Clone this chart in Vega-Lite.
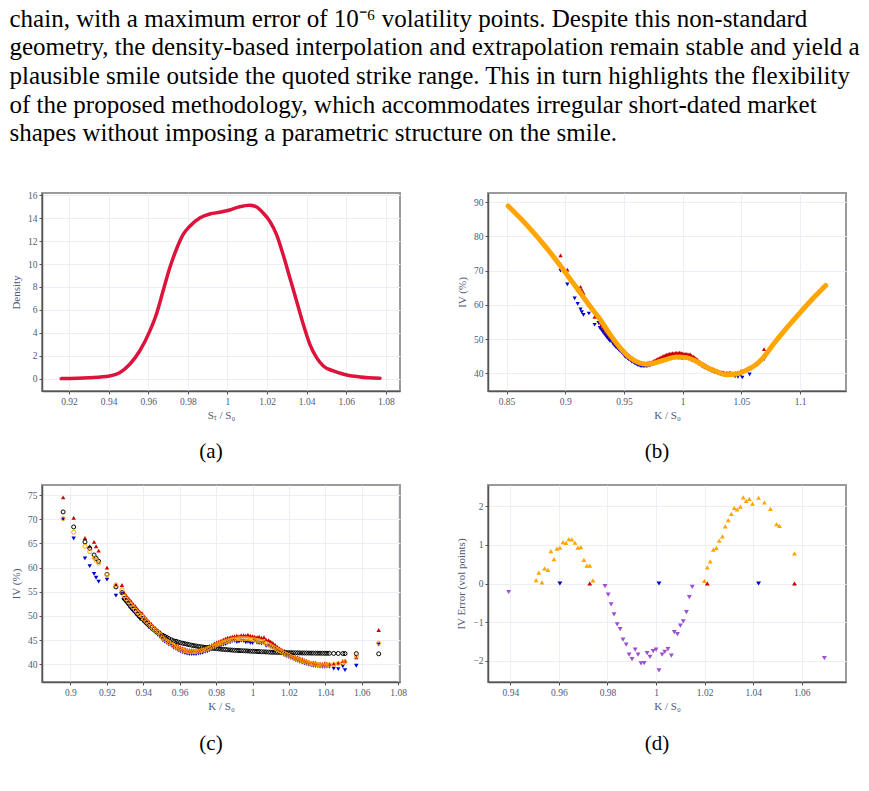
{
  "$schema": "https://vega.github.io/schema/vega-lite/v6.json",
  "background": "white",
  "padding": {"left": 9, "top": 6, "right": 5, "bottom": 5},
  "title": {
    "text": [
      "chain, with a maximum error of 10⁻⁶ volatility points. Despite this non-standard",
      "geometry, the density-based interpolation and extrapolation remain stable and yield a",
      "plausible smile outside the quoted strike range. This in turn highlights the flexibility",
      "of the proposed methodology, which accommodates irregular short-dated market",
      "shapes without imposing a parametric structure on the smile."
    ],
    "anchor": "start",
    "font": "Liberation Serif",
    "fontSize": 25,
    "fontWeight": "normal",
    "color": "black",
    "lineHeight": 28.6,
    "offset": 43
  },
  "datasets": {
    "density": [
      {"x": 0.9161, "d": 0}, {"x": 0.93, "d": 0.08}, {"x": 0.9405, "d": 0.23}, {"x": 0.9456, "d": 0.52},
      {"x": 0.9507, "d": 1.25}, {"x": 0.9557, "d": 2.41}, {"x": 0.9608, "d": 4.15}, {"x": 0.9641, "d": 5.6},
      {"x": 0.9675, "d": 7.64}, {"x": 0.9709, "d": 9.67}, {"x": 0.9742, "d": 11.27}, {"x": 0.9776, "d": 12.57},
      {"x": 0.981, "d": 13.3}, {"x": 0.986, "d": 14.02}, {"x": 0.9911, "d": 14.37}, {"x": 0.9961, "d": 14.52},
      {"x": 1.0012, "d": 14.72}, {"x": 1.0062, "d": 15.0}, {"x": 1.0113, "d": 15.13}, {"x": 1.0147, "d": 14.98},
      {"x": 1.018, "d": 14.46}, {"x": 1.0214, "d": 13.73}, {"x": 1.0248, "d": 12.57}, {"x": 1.0281, "d": 10.83},
      {"x": 1.0315, "d": 8.8}, {"x": 1.0349, "d": 6.77}, {"x": 1.0383, "d": 4.73}, {"x": 1.0416, "d": 2.99},
      {"x": 1.045, "d": 1.83}, {"x": 1.0484, "d": 1.1}, {"x": 1.0534, "d": 0.67}, {"x": 1.0602, "d": 0.32},
      {"x": 1.0669, "d": 0.15}, {"x": 1.077, "d": 0.03}
    ],
    "smile": [
      {"k": 0.8514, "iv": 88.9}, {"k": 0.8671, "iv": 83.4}, {"k": 0.8842, "iv": 76.6}, {"k": 0.8983, "iv": 70.3},
      {"k": 0.9097, "iv": 65.0}, {"k": 0.921, "iv": 59.65}, {"k": 0.9296, "iv": 55.8}, {"k": 0.9381, "iv": 51.4},
      {"k": 0.9466, "iv": 47.55}, {"k": 0.9551, "iv": 44.65}, {"k": 0.9636, "iv": 43.0}, {"k": 0.9693, "iv": 42.7},
      {"k": 0.9778, "iv": 43.2}, {"k": 0.9864, "iv": 44.1}, {"k": 0.9949, "iv": 44.8}, {"k": 1.0034, "iv": 44.6},
      {"k": 1.0119, "iv": 43.5}, {"k": 1.0204, "iv": 41.75}, {"k": 1.029, "iv": 40.5}, {"k": 1.0375, "iv": 39.6},
      {"k": 1.046, "iv": 39.8}, {"k": 1.0545, "iv": 41.0}, {"k": 1.063, "iv": 42.7}, {"k": 1.0687, "iv": 44.6},
      {"k": 1.0772, "iv": 48.5}, {"k": 1.0886, "iv": 53.3}, {"k": 1.0999, "iv": 57.7}, {"k": 1.1113, "iv": 62.0},
      {"k": 1.1218, "iv": 65.7}
    ],
    "market": [
      {"k": 0.896, "bid": 70.0, "ask": 74.5, "fit": 70.1, "alt": 71.5},
      {"k": 0.9018, "bid": 66.0, "ask": 70.3, "fit": 67.3, "alt": 68.4},
      {"k": 0.908, "bid": 61.9, "ask": 66.1, "fit": 64.4, "alt": 65.3},
      {"k": 0.9106, "bid": 60.3, "ask": 64.4, "fit": 63.3, "alt": 64.0},
      {"k": 0.913, "bid": 58.7, "ask": 65.3, "fit": 62.0, "alt": 62.6},
      {"k": 0.9141, "bid": 57.9, "ask": 64.4, "fit": 61.5, "alt": 61.9},
      {"k": 0.9155, "bid": 57.1, "ask": 63.5, "fit": 60.9, "alt": 61.3},
      {"k": 0.9201, "bid": 57.5, "ask": 60.0, "fit": 58.5, "alt": 58.6},
      {"k": 0.925, "bid": 54.2, "ask": 56.5, "fit": 56.4, "alt": 56.0},
      {"k": 0.9283, "bid": 54.8, "ask": 56.4, "fit": 55.4, "alt": 54.8},
      {"k": 0.9295, "bid": 53.3, "ask": 54.8, "fit": 54.1, "alt": 53.6},
      {"k": 0.9307, "bid": 52.7, "ask": 54.2, "fit": 53.5, "alt": 53.1},
      {"k": 0.932, "bid": 52.1, "ask": 53.6, "fit": 52.9, "alt": 52.5},
      {"k": 0.9332, "bid": 51.5, "ask": 53.1, "fit": 52.3, "alt": 51.9},
      {"k": 0.9344, "bid": 51.0, "ask": 52.5, "fit": 51.8, "alt": 51.4},
      {"k": 0.9357, "bid": 50.4, "ask": 52.0, "fit": 51.2, "alt": 50.9},
      {"k": 0.9369, "bid": 49.9, "ask": 51.4, "fit": 50.7, "alt": 50.4},
      {"k": 0.9381, "bid": 49.4, "ask": 50.9, "fit": 50.2, "alt": 49.9},
      {"k": 0.9393, "bid": 49.6, "ask": 50.6, "fit": 50.0, "alt": 49.4},
      {"k": 0.9406, "bid": 48.7, "ask": 49.9, "fit": 49.3, "alt": 48.95},
      {"k": 0.9418, "bid": 48.2, "ask": 49.4, "fit": 48.8, "alt": 48.5},
      {"k": 0.943, "bid": 47.7, "ask": 48.9, "fit": 48.3, "alt": 48.1},
      {"k": 0.9443, "bid": 47.3, "ask": 48.4, "fit": 47.8, "alt": 47.7},
      {"k": 0.9455, "bid": 46.9, "ask": 47.9, "fit": 47.4, "alt": 47.3},
      {"k": 0.9467, "bid": 46.5, "ask": 47.5, "fit": 47.0, "alt": 46.95},
      {"k": 0.948, "bid": 46.1, "ask": 47.1, "fit": 46.6, "alt": 46.6},
      {"k": 0.9492, "bid": 45.7, "ask": 46.7, "fit": 46.2, "alt": 46.3},
      {"k": 0.9506, "bid": 45.0, "ask": 45.9, "fit": 45.4, "alt": 46.0},
      {"k": 0.9517, "bid": 44.7, "ask": 45.5, "fit": 45.1, "alt": 45.8},
      {"k": 0.953, "bid": 44.4, "ask": 45.5, "fit": 44.8, "alt": 45.55},
      {"k": 0.9541, "bid": 44.1, "ask": 44.9, "fit": 44.5, "alt": 45.3},
      {"k": 0.9555, "bid": 43.8, "ask": 44.7, "fit": 44.2, "alt": 45.05},
      {"k": 0.9567, "bid": 43.4, "ask": 44.0, "fit": 43.8, "alt": 44.85},
      {"k": 0.958, "bid": 43.2, "ask": 44.1, "fit": 43.6, "alt": 44.75},
      {"k": 0.9592, "bid": 42.9, "ask": 43.7, "fit": 43.3, "alt": 44.6},
      {"k": 0.9604, "bid": 42.7, "ask": 43.5, "fit": 43.1, "alt": 44.45},
      {"k": 0.9617, "bid": 42.5, "ask": 43.3, "fit": 42.9, "alt": 44.35},
      {"k": 0.9629, "bid": 42.3, "ask": 43.2, "fit": 42.8, "alt": 44.25},
      {"k": 0.9641, "bid": 42.2, "ask": 43.0, "fit": 42.7, "alt": 44.15},
      {"k": 0.9653, "bid": 42.1, "ask": 42.9, "fit": 42.6, "alt": 44.05},
      {"k": 0.9666, "bid": 42.1, "ask": 42.9, "fit": 42.6, "alt": 43.95},
      {"k": 0.9678, "bid": 42.1, "ask": 42.9, "fit": 42.6, "alt": 43.85},
      {"k": 0.969, "bid": 42.1, "ask": 42.85, "fit": 42.6, "alt": 43.78},
      {"k": 0.9703, "bid": 42.2, "ask": 43.1, "fit": 42.7, "alt": 43.7},
      {"k": 0.9715, "bid": 42.3, "ask": 43.2, "fit": 42.8, "alt": 43.63},
      {"k": 0.9727, "bid": 42.4, "ask": 43.1, "fit": 42.9, "alt": 43.57},
      {"k": 0.974, "bid": 42.6, "ask": 43.4, "fit": 43.0, "alt": 43.5},
      {"k": 0.9752, "bid": 42.7, "ask": 43.6, "fit": 43.2, "alt": 43.45},
      {"k": 0.9764, "bid": 42.9, "ask": 43.8, "fit": 43.35, "alt": 43.4},
      {"k": 0.9777, "bid": 43.1, "ask": 44.0, "fit": 43.55, "alt": 43.33},
      {"k": 0.979, "bid": 43.35, "ask": 44.3, "fit": 43.8, "alt": 43.28},
      {"k": 0.9803, "bid": 43.5, "ask": 44.5, "fit": 44.0, "alt": 43.23},
      {"k": 0.9815, "bid": 43.7, "ask": 44.7, "fit": 44.2, "alt": 43.18},
      {"k": 0.9827, "bid": 43.9, "ask": 44.9, "fit": 44.4, "alt": 43.13},
      {"k": 0.984, "bid": 44.1, "ask": 45.1, "fit": 44.55, "alt": 43.08},
      {"k": 0.9852, "bid": 44.2, "ask": 45.3, "fit": 44.7, "alt": 43.05},
      {"k": 0.9864, "bid": 44.45, "ask": 45.5, "fit": 44.85, "alt": 43.0},
      {"k": 0.9877, "bid": 44.55, "ask": 45.6, "fit": 45.0, "alt": 42.97},
      {"k": 0.9889, "bid": 44.8, "ask": 45.7, "fit": 45.1, "alt": 42.93},
      {"k": 0.9901, "bid": 44.85, "ask": 45.8, "fit": 45.2, "alt": 42.9},
      {"k": 0.9914, "bid": 44.6, "ask": 45.9, "fit": 45.25, "alt": 42.87},
      {"k": 0.9926, "bid": 44.7, "ask": 45.8, "fit": 45.3, "alt": 42.84},
      {"k": 0.9938, "bid": 44.9, "ask": 46.0, "fit": 45.3, "alt": 42.82},
      {"k": 0.9951, "bid": 44.85, "ask": 46.0, "fit": 45.3, "alt": 42.79},
      {"k": 0.9963, "bid": 44.55, "ask": 45.9, "fit": 45.3, "alt": 42.77},
      {"k": 0.9975, "bid": 44.65, "ask": 46.1, "fit": 45.25, "alt": 42.75},
      {"k": 0.9988, "bid": 44.45, "ask": 45.9, "fit": 45.2, "alt": 42.72},
      {"k": 1.0, "bid": 44.4, "ask": 45.8, "fit": 45.1, "alt": 42.7},
      {"k": 1.0012, "bid": 44.9, "ask": 45.7, "fit": 45.05, "alt": 42.68},
      {"k": 1.0025, "bid": 44.5, "ask": 45.6, "fit": 44.95, "alt": 42.65},
      {"k": 1.0036, "bid": 44.4, "ask": 45.7, "fit": 44.85, "alt": 42.63},
      {"k": 1.0049, "bid": 44.3, "ask": 45.5, "fit": 44.7, "alt": 42.6},
      {"k": 1.0063, "bid": 44.45, "ask": 45.6, "fit": 44.5, "alt": 42.58},
      {"k": 1.0075, "bid": 43.8, "ask": 45.1, "fit": 44.3, "alt": 42.55},
      {"k": 1.0088, "bid": 43.85, "ask": 45.0, "fit": 44.0, "alt": 42.53},
      {"k": 1.01, "bid": 43.6, "ask": 44.7, "fit": 43.8, "alt": 42.5},
      {"k": 1.0112, "bid": 43.45, "ask": 44.4, "fit": 43.55, "alt": 42.49},
      {"k": 1.0125, "bid": 43.2, "ask": 44.0, "fit": 43.3, "alt": 42.48},
      {"k": 1.0137, "bid": 42.8, "ask": 43.6, "fit": 43.05, "alt": 42.47},
      {"k": 1.0149, "bid": 42.55, "ask": 43.3, "fit": 42.8, "alt": 42.45},
      {"k": 1.0161, "bid": 42.2, "ask": 43.0, "fit": 42.55, "alt": 42.44},
      {"k": 1.0174, "bid": 41.9, "ask": 42.8, "fit": 42.3, "alt": 42.43},
      {"k": 1.0186, "bid": 41.7, "ask": 42.55, "fit": 42.05, "alt": 42.41},
      {"k": 1.0199, "bid": 41.5, "ask": 42.33, "fit": 41.85, "alt": 42.4},
      {"k": 1.0211, "bid": 41.3, "ask": 41.97, "fit": 41.6, "alt": 42.39},
      {"k": 1.0223, "bid": 41.1, "ask": 41.81, "fit": 41.4, "alt": 42.38},
      {"k": 1.0236, "bid": 40.9, "ask": 41.49, "fit": 41.2, "alt": 42.37},
      {"k": 1.0248, "bid": 40.7, "ask": 41.44, "fit": 41.0, "alt": 42.36},
      {"k": 1.026, "bid": 40.5, "ask": 41.24, "fit": 40.85, "alt": 42.35},
      {"k": 1.0273, "bid": 40.35, "ask": 41.12, "fit": 40.7, "alt": 42.34},
      {"k": 1.0285, "bid": 40.2, "ask": 40.85, "fit": 40.55, "alt": 42.33},
      {"k": 1.0297, "bid": 40.05, "ask": 40.69, "fit": 40.4, "alt": 42.33},
      {"k": 1.031, "bid": 39.9, "ask": 40.52, "fit": 40.25, "alt": 42.32},
      {"k": 1.0322, "bid": 39.8, "ask": 40.35, "fit": 40.15, "alt": 42.31},
      {"k": 1.0334, "bid": 39.7, "ask": 40.39, "fit": 40.05, "alt": 42.31},
      {"k": 1.0347, "bid": 39.65, "ask": 40.31, "fit": 39.95, "alt": 42.3},
      {"k": 1.0359, "bid": 39.6, "ask": 40.07, "fit": 39.9, "alt": 42.3},
      {"k": 1.0371, "bid": 39.55, "ask": 40.15, "fit": 39.85, "alt": 42.29},
      {"k": 1.0384, "bid": 39.5, "ask": 40.1, "fit": 39.8, "alt": 42.29},
      {"k": 1.0397, "bid": 39.5, "ask": 40.21, "fit": 39.8, "alt": 42.28},
      {"k": 1.0409, "bid": 39.55, "ask": 40.15, "fit": 39.85, "alt": 42.28},
      {"k": 1.0422, "bid": 39.5, "ask": 40.05, "fit": 39.9, "alt": 42.27},
      {"k": 1.0446, "bid": 39.1, "ask": 40.15, "fit": 40.0, "alt": 42.25},
      {"k": 1.0471, "bid": 39.0, "ask": 40.31, "fit": 40.15, "alt": 42.24},
      {"k": 1.0496, "bid": 39.6, "ask": 40.69, "fit": 40.35, "alt": 42.23},
      {"k": 1.0508, "bid": 38.8, "ask": 40.73, "fit": 40.5, "alt": 42.22},
      {"k": 1.057, "bid": 39.7, "ask": 41.42, "fit": 41.7, "alt": 42.2},
      {"k": 1.0693, "bid": 44.1, "ask": 47.1, "fit": 44.4, "alt": 42.17}
    ],
    "errors": [
      {"k": 0.9393, "err": -0.22, "g": "below"},
      {"k": 0.9506, "err": 0.09, "g": "above"}, {"k": 0.9517, "err": 0.28, "g": "above"},
      {"k": 0.953, "err": 0.03, "g": "above"}, {"k": 0.9541, "err": 0.39, "g": "above"},
      {"k": 0.9555, "err": 0.35, "g": "above"}, {"k": 0.9567, "err": 0.84, "g": "above"},
      {"k": 0.958, "err": 0.63, "g": "above"}, {"k": 0.9592, "err": 0.9, "g": "above"},
      {"k": 0.9604, "err": 0.93, "g": "above"}, {"k": 0.9604, "err": 0, "g": "bid"},
      {"k": 0.9617, "err": 1.07, "g": "above"}, {"k": 0.9629, "err": 1.05, "g": "above"},
      {"k": 0.9641, "err": 1.15, "g": "above"}, {"k": 0.9653, "err": 1.14, "g": "above"},
      {"k": 0.9666, "err": 1.06, "g": "above"}, {"k": 0.9678, "err": 0.93, "g": "above"},
      {"k": 0.969, "err": 0.94, "g": "above"}, {"k": 0.9703, "err": 0.61, "g": "above"},
      {"k": 0.9715, "err": 0.46, "g": "above"}, {"k": 0.9727, "err": 0.46, "g": "above"},
      {"k": 0.9727, "err": 0, "g": "ask"}, {"k": 0.974, "err": 0.08, "g": "above"},
      {"k": 0.979, "err": -0.07, "g": "below"}, {"k": 0.9803, "err": -0.29, "g": "below"},
      {"k": 0.9815, "err": -0.54, "g": "below"}, {"k": 0.9827, "err": -0.8, "g": "below"},
      {"k": 0.984, "err": -1.06, "g": "below"}, {"k": 0.9852, "err": -1.18, "g": "below"},
      {"k": 0.9864, "err": -1.45, "g": "below"}, {"k": 0.9877, "err": -1.58, "g": "below"},
      {"k": 0.9889, "err": -1.84, "g": "below"}, {"k": 0.9901, "err": -1.96, "g": "below"},
      {"k": 0.9914, "err": -1.71, "g": "below"}, {"k": 0.9926, "err": -1.84, "g": "below"},
      {"k": 0.9938, "err": -2.07, "g": "below"}, {"k": 0.9951, "err": -2.06, "g": "below"},
      {"k": 0.9963, "err": -1.8, "g": "below"}, {"k": 0.9975, "err": -1.9, "g": "below"},
      {"k": 0.9988, "err": -1.75, "g": "below"}, {"k": 1.0, "err": -1.71, "g": "below"},
      {"k": 1.0012, "err": -2.25, "g": "below"}, {"k": 1.0012, "err": 0, "g": "bid"},
      {"k": 1.0025, "err": -1.84, "g": "below"}, {"k": 1.0036, "err": -1.77, "g": "below"},
      {"k": 1.0049, "err": -1.7, "g": "below"}, {"k": 1.0063, "err": -1.87, "g": "below"},
      {"k": 1.0075, "err": -1.26, "g": "below"}, {"k": 1.0088, "err": -1.31, "g": "below"},
      {"k": 1.01, "err": -1.09, "g": "below"}, {"k": 1.0112, "err": -0.98, "g": "below"},
      {"k": 1.0125, "err": -0.74, "g": "below"}, {"k": 1.0137, "err": -0.35, "g": "below"},
      {"k": 1.0149, "err": -0.09, "g": "below"},
      {"k": 1.0199, "err": 0.07, "g": "above"}, {"k": 1.0211, "err": 0.42, "g": "above"},
      {"k": 1.0211, "err": 0, "g": "ask"}, {"k": 1.0223, "err": 0.57, "g": "above"},
      {"k": 1.0236, "err": 0.88, "g": "above"}, {"k": 1.0248, "err": 0.92, "g": "above"},
      {"k": 1.026, "err": 1.11, "g": "above"}, {"k": 1.0273, "err": 1.22, "g": "above"},
      {"k": 1.0285, "err": 1.48, "g": "above"}, {"k": 1.0297, "err": 1.64, "g": "above"},
      {"k": 1.031, "err": 1.8, "g": "above"}, {"k": 1.0322, "err": 1.96, "g": "above"},
      {"k": 1.0334, "err": 1.92, "g": "above"}, {"k": 1.0347, "err": 1.99, "g": "above"},
      {"k": 1.0359, "err": 2.23, "g": "above"}, {"k": 1.0371, "err": 2.14, "g": "above"},
      {"k": 1.0384, "err": 2.19, "g": "above"}, {"k": 1.0397, "err": 2.07, "g": "above"},
      {"k": 1.0422, "err": 2.22, "g": "above"}, {"k": 1.0422, "err": 0, "g": "bid"},
      {"k": 1.0446, "err": 2.1, "g": "above"}, {"k": 1.0471, "err": 1.93, "g": "above"},
      {"k": 1.0496, "err": 1.54, "g": "above"}, {"k": 1.0508, "err": 1.49, "g": "above"},
      {"k": 1.057, "err": 0.78, "g": "above"}, {"k": 1.057, "err": 0, "g": "ask"},
      {"k": 1.0693, "err": -1.93, "g": "below"}
    ]
  },
  "columns": 2,
  "bounds": "flush",
  "spacing": {"row": 94, "column": 88},
  "concat": [
    {
      "width": 358, "height": 198,
      "title": {"text": "(a)", "orient": "bottom", "anchor": "middle", "dx": -10, "offset": 20, "font": "Liberation Serif", "fontSize": 21, "fontWeight": "normal", "color": "black"},
      "data": {"name": "density"},
      "mark": {"type": "line", "color": "#DC143C", "strokeWidth": 3.5, "interpolate": "monotone", "strokeCap": "round", "clip": true},
      "encoding": {
        "x": {"field": "x", "type": "quantitative", "scale": {"domain": [0.9064, 1.0871], "nice": false, "zero": false},
              "axis": {"values": [0.92, 0.94, 0.96, 0.98, 1.0, 1.02, 1.04, 1.06, 1.08], "format": "~g", "title": "Sₜ / S₀"}},
        "y": {"field": "d", "type": "quantitative", "scale": {"domain": [-1.08, 16.2], "nice": false, "zero": false},
              "axis": {"values": [0, 2, 4, 6, 8, 10, 12, 14, 16], "title": "Density"}}
      }
    },
    {
      "width": 358, "height": 198,
      "title": {"text": "(b)", "orient": "bottom", "anchor": "middle", "dx": -10, "offset": 20, "font": "Liberation Serif", "fontSize": 21, "fontWeight": "normal", "color": "black"},
      "layer": [
        {
          "data": {"name": "market"},
          "mark": {"type": "point", "shape": "triangle-down", "filled": true, "color": "#0000cc", "size": 18, "opacity": 1, "clip": true},
          "encoding": {
            "x": {"field": "k", "type": "quantitative", "scale": {"domain": [0.8342, 1.1391], "nice": false, "zero": false},
                  "axis": {"values": [0.85, 0.9, 0.95, 1.0, 1.05, 1.1], "format": "~g", "title": "K / S₀"}},
            "y": {"field": "bid", "type": "quantitative", "scale": {"domain": [34.85, 92.7], "nice": false, "zero": false},
                  "axis": {"values": [40, 50, 60, 70, 80, 90], "title": "IV (%)"}}
          }
        },
        {
          "data": {"name": "market"},
          "mark": {"type": "point", "shape": "triangle-up", "filled": true, "color": "#cc0000", "size": 18, "opacity": 1, "clip": true},
          "encoding": {
            "x": {"field": "k", "type": "quantitative", "scale": {"domain": [0.8342, 1.1391], "nice": false, "zero": false},
                  "axis": {"values": [0.85, 0.9, 0.95, 1.0, 1.05, 1.1], "format": "~g", "title": "K / S₀"}},
            "y": {"field": "ask", "type": "quantitative", "scale": {"domain": [34.85, 92.7], "nice": false, "zero": false},
                  "axis": {"values": [40, 50, 60, 70, 80, 90], "title": "IV (%)"}}
          }
        },
        {
          "data": {"name": "smile"},
          "mark": {"type": "line", "color": "#FFA500", "strokeWidth": 5, "interpolate": "monotone", "strokeCap": "round", "clip": true},
          "encoding": {
            "x": {"field": "k", "type": "quantitative", "scale": {"domain": [0.8342, 1.1391], "nice": false, "zero": false},
                  "axis": {"values": [0.85, 0.9, 0.95, 1.0, 1.05, 1.1], "format": "~g", "title": "K / S₀"}},
            "y": {"field": "iv", "type": "quantitative", "scale": {"domain": [34.85, 92.7], "nice": false, "zero": false},
                  "axis": {"values": [40, 50, 60, 70, 80, 90], "title": "IV (%)"}}
          }
        }
      ]
    },
    {
      "width": 358, "height": 197,
      "title": {"text": "(c)", "orient": "bottom", "anchor": "middle", "dx": -10, "offset": 21, "font": "Liberation Serif", "fontSize": 21, "fontWeight": "normal", "color": "black"},
      "data": {"name": "market"},
      "layer": [
        {
          "mark": {"type": "point", "shape": "triangle-down", "filled": true, "color": "#0000cc", "size": 20, "opacity": 1, "clip": true},
          "encoding": {
            "x": {"field": "k", "type": "quantitative", "scale": {"domain": [0.8844, 1.081], "nice": false, "zero": false},
                  "axis": {"values": [0.9, 0.92, 0.94, 0.96, 0.98, 1.0, 1.02, 1.04, 1.06, 1.08], "format": "~g", "title": "K / S₀"}},
            "y": {"field": "bid", "type": "quantitative", "scale": {"domain": [36.34, 77.07], "nice": false, "zero": false},
                  "axis": {"values": [40, 45, 50, 55, 60, 65, 70, 75], "title": "IV (%)"}}
          }
        },
        {
          "mark": {"type": "point", "shape": "triangle-up", "filled": true, "color": "#cc0000", "size": 20, "opacity": 1, "clip": true},
          "encoding": {
            "x": {"field": "k", "type": "quantitative", "scale": {"domain": [0.8844, 1.081], "nice": false, "zero": false},
                  "axis": {"values": [0.9, 0.92, 0.94, 0.96, 0.98, 1.0, 1.02, 1.04, 1.06, 1.08], "format": "~g", "title": "K / S₀"}},
            "y": {"field": "ask", "type": "quantitative", "scale": {"domain": [36.34, 77.07], "nice": false, "zero": false},
                  "axis": {"values": [40, 45, 50, 55, 60, 65, 70, 75], "title": "IV (%)"}}
          }
        },
        {
          "mark": {"type": "point", "shape": "circle", "filled": false, "color": "#000000", "size": 16, "strokeWidth": 1, "opacity": 1, "clip": true},
          "encoding": {
            "x": {"field": "k", "type": "quantitative", "scale": {"domain": [0.8844, 1.081], "nice": false, "zero": false},
                  "axis": {"values": [0.9, 0.92, 0.94, 0.96, 0.98, 1.0, 1.02, 1.04, 1.06, 1.08], "format": "~g", "title": "K / S₀"}},
            "y": {"field": "alt", "type": "quantitative", "scale": {"domain": [36.34, 77.07], "nice": false, "zero": false},
                  "axis": {"values": [40, 45, 50, 55, 60, 65, 70, 75], "title": "IV (%)"}}
          }
        },
        {
          "mark": {"type": "point", "shape": "circle", "filled": false, "color": "#FFA500", "size": 16, "strokeWidth": 1, "opacity": 1, "clip": true},
          "encoding": {
            "x": {"field": "k", "type": "quantitative", "scale": {"domain": [0.8844, 1.081], "nice": false, "zero": false},
                  "axis": {"values": [0.9, 0.92, 0.94, 0.96, 0.98, 1.0, 1.02, 1.04, 1.06, 1.08], "format": "~g", "title": "K / S₀"}},
            "y": {"field": "fit", "type": "quantitative", "scale": {"domain": [36.34, 77.07], "nice": false, "zero": false},
                  "axis": {"values": [40, 45, 50, 55, 60, 65, 70, 75], "title": "IV (%)"}}
          }
        }
      ]
    },
    {
      "width": 358, "height": 197,
      "title": {"text": "(d)", "orient": "bottom", "anchor": "middle", "dx": -10, "offset": 21, "font": "Liberation Serif", "fontSize": 21, "fontWeight": "normal", "color": "black"},
      "data": {"name": "errors"},
      "mark": {"type": "point", "filled": true, "size": 24, "opacity": 1, "clip": true},
      "encoding": {
        "x": {"field": "k", "type": "quantitative", "scale": {"domain": [0.9308, 1.0782], "nice": false, "zero": false},
              "axis": {"values": [0.94, 0.96, 0.98, 1.0, 1.02, 1.04, 1.06], "format": "~g", "title": "K / S₀"}},
        "y": {"field": "err", "type": "quantitative", "scale": {"domain": [-2.55, 2.55], "nice": false, "zero": false},
              "axis": {"values": [-2, -1, 0, 1, 2], "title": "IV Error (vol points)"}},
        "shape": {"field": "g", "type": "nominal", "scale": {"domain": ["above", "below", "bid", "ask"], "range": ["triangle-up", "triangle-down", "triangle-down", "triangle-up"]}, "legend": null},
        "color": {"field": "g", "type": "nominal", "scale": {"domain": ["above", "below", "bid", "ask"], "range": ["#FFA500", "#9b50d0", "#0000cc", "#cc0000"]}, "legend": null}
      }
    }
  ],
  "config": {
    "font": "Liberation Serif",
    "view": {"stroke": "#9a9a9a", "strokeWidth": 2},
    "axis": {
      "labelFont": "Liberation Serif", "labelFontSize": 9.5, "labelColor": "#4e5a78",
      "titleFont": "Liberation Serif", "titleFontSize": 11, "titleFontWeight": "normal", "titleColor": "#4e5a78",
      "gridColor": "#eceff6", "gridWidth": 1, "domainColor": "#555555", "domainWidth": 1.5,
      "tickColor": "#555555", "tickSize": 3, "labelPadding": 2,
      "labelOverlap": false, "labelFlush": false
    },
    "axisX": {"titlePadding": 4},
    "axisY": {"titlePadding": 6}
  }
}
